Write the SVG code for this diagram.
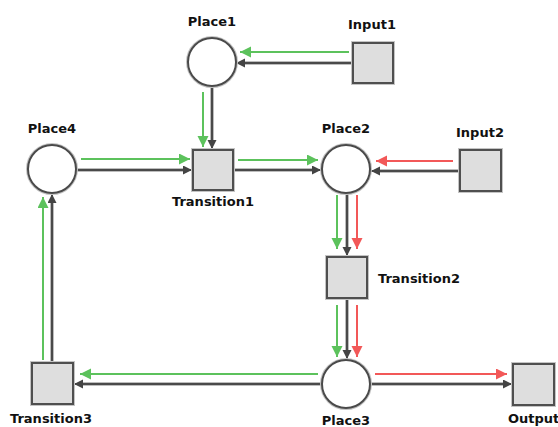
<svg xmlns="http://www.w3.org/2000/svg" width="558" height="427" viewBox="0 0 558 427">
  <defs>
    <marker id="head-dark" markerUnits="userSpaceOnUse" markerWidth="10" markerHeight="10" refX="9" refY="4.5" orient="auto">
      <path d="M0,0 L9,4.5 L0,9 z" fill="#444"/>
    </marker>
    <marker id="head-green" markerUnits="userSpaceOnUse" markerWidth="12" markerHeight="12" refX="11" refY="5.5" orient="auto">
      <path d="M0,0 L11,5.5 L0,11 z" fill="#5cc25c"/>
    </marker>
    <marker id="head-red" markerUnits="userSpaceOnUse" markerWidth="12" markerHeight="12" refX="11" refY="5.5" orient="auto">
      <path d="M0,0 L11,5.5 L0,11 z" fill="#f25858"/>
    </marker>
  </defs>
  <style>
    .bg { fill: #ffffff; }
    .place-halo { fill: none; stroke: #c4c4c4; stroke-width: 4; }
    .place { fill: #ffffff; stroke: #4a4a4a; stroke-width: 2; }
    .trans-halo { fill: none; stroke: #c4c4c4; stroke-width: 4; }
    .trans { fill: #dedede; stroke: #4f4f4f; stroke-width: 2; }
    .label { font-family: "DejaVu Sans", Verdana, sans-serif; font-weight: bold; font-size: 13px; fill: #111; }
    .mid { text-anchor: middle; }
    .arc-halo { fill: none; stroke: #bdbdbd; stroke-width: 4; }
    .arc { fill: none; stroke: #4a4a4a; stroke-width: 2; marker-end: url(#head-dark); }
    .tok-g { fill: none; stroke: #5cc25c; stroke-width: 2; marker-end: url(#head-green); }
    .tok-r { fill: none; stroke: #f25858; stroke-width: 2; marker-end: url(#head-red); }
  </style>

  <rect class="bg" x="0" y="0" width="558" height="427"/>

  <!-- arcs of the net, with token-flow overlays -->
  <g id="connectors">
    <!-- Input1 -> Place1 -->
    <path class="arc-halo" d="M353,63 H240"/>
    <path class="arc" d="M353,63 H236"/>
    <path class="tok-g" d="M349,52 H240"/>

    <!-- Place1 -> Transition1 -->
    <path class="arc-halo" d="M212,86 V145"/>
    <path class="arc" d="M212,86 V149"/>
    <path class="tok-g" d="M203,92 V147"/>

    <!-- Place4 -> Transition1 -->
    <path class="arc-halo" d="M76,170 H188"/>
    <path class="arc" d="M76,170 H192"/>
    <path class="tok-g" d="M81,159 H190"/>

    <!-- Transition1 -> Place2 -->
    <path class="arc-halo" d="M233,170 H317"/>
    <path class="arc" d="M233,170 H321"/>
    <path class="tok-g" d="M238,160 H318"/>

    <!-- Input2 -> Place2 -->
    <path class="arc-halo" d="M460,171 H375"/>
    <path class="arc" d="M460,171 H371"/>
    <path class="tok-r" d="M453,161 H376"/>

    <!-- Place2 -> Transition2 -->
    <path class="arc-halo" d="M347,193 V252"/>
    <path class="arc" d="M347,193 V256"/>
    <path class="tok-g" d="M337,195 V249"/>
    <path class="tok-r" d="M357,195 V249"/>

    <!-- Transition2 -> Place3 -->
    <path class="arc-halo" d="M347,298 V355"/>
    <path class="arc" d="M347,298 V359"/>
    <path class="tok-g" d="M337,305 V357"/>
    <path class="tok-r" d="M357,305 V357"/>

    <!-- Place3 -> Transition3 -->
    <path class="arc-halo" d="M322,384 H78"/>
    <path class="arc" d="M322,384 H74"/>
    <path class="tok-g" d="M318,374 H80"/>

    <!-- Transition3 -> Place4 -->
    <path class="arc-halo" d="M52,363 V198"/>
    <path class="arc" d="M52,363 V194"/>
    <path class="tok-g" d="M43,360 V197"/>

    <!-- Place3 -> Output -->
    <path class="arc-halo" d="M370,384 H508"/>
    <path class="arc" d="M370,384 H512"/>
    <path class="tok-r" d="M375,374 H507"/>
  </g>

  <!-- places -->
  <g id="Place1">
    <circle class="place-halo" cx="212" cy="62" r="24"/>
    <circle class="place" cx="212" cy="62" r="24"/>
    <text class="label mid" x="212" y="26">Place1</text>
  </g>
  <g id="Place2">
    <circle class="place-halo" cx="346" cy="169" r="24"/>
    <circle class="place" cx="346" cy="169" r="24"/>
    <text class="label mid" x="346" y="133">Place2</text>
  </g>
  <g id="Place3">
    <circle class="place-halo" cx="346" cy="384" r="24"/>
    <circle class="place" cx="346" cy="384" r="24"/>
    <text class="label mid" x="346" y="425">Place3</text>
  </g>
  <g id="Place4">
    <circle class="place-halo" cx="52" cy="169" r="24"/>
    <circle class="place" cx="52" cy="169" r="24"/>
    <text class="label mid" x="52" y="133">Place4</text>
  </g>

  <!-- transitions -->
  <g id="Input1">
    <rect class="trans-halo" x="353" y="43" width="40" height="40"/>
    <rect class="trans" x="353" y="43" width="40" height="40"/>
    <text class="label mid" x="372" y="29">Input1</text>
  </g>
  <g id="Input2">
    <rect class="trans-halo" x="460" y="150" width="41" height="41"/>
    <rect class="trans" x="460" y="150" width="41" height="41"/>
    <text class="label mid" x="480" y="137">Input2</text>
  </g>
  <g id="Transition1">
    <rect class="trans-halo" x="193" y="150" width="40" height="40"/>
    <rect class="trans" x="193" y="150" width="40" height="40"/>
    <text class="label mid" x="213" y="206">Transition1</text>
  </g>
  <g id="Transition2">
    <rect class="trans-halo" x="327" y="257" width="40" height="41"/>
    <rect class="trans" x="327" y="257" width="40" height="41"/>
    <text class="label" x="378" y="283">Transition2</text>
  </g>
  <g id="Transition3">
    <rect class="trans-halo" x="32" y="363" width="41" height="41"/>
    <rect class="trans" x="32" y="363" width="41" height="41"/>
    <text class="label" x="10" y="423">Transition3</text>
  </g>
  <g id="Output">
    <rect class="trans-halo" x="513" y="364" width="41" height="41"/>
    <rect class="trans" x="513" y="364" width="41" height="41"/>
    <text class="label" x="508" y="423">Output</text>
  </g>
</svg>
